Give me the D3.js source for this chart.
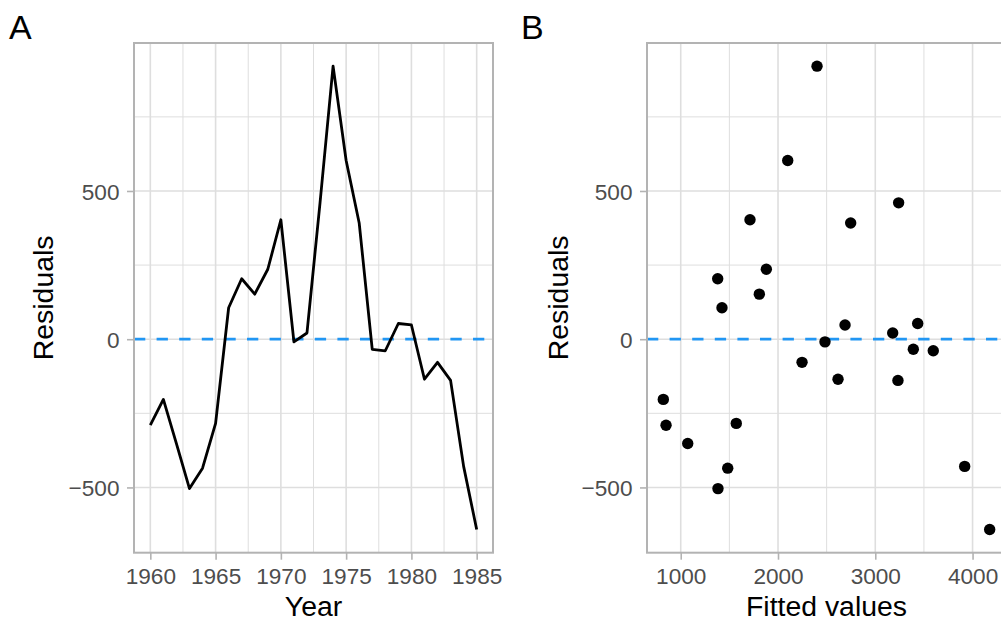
<!DOCTYPE html>
<html>
<head>
<meta charset="utf-8">
<script src="https://cdn.jsdelivr.net/npm/d3@7"></script>
<style>
  html, body { margin: 0; padding: 0; background: #ffffff; }
  svg { display: block; font-family: "Liberation Sans", Arial, Helvetica, sans-serif; }
</style>
</head>
<body>
<svg id="chart" width="1001" height="621"></svg>
<script>
// Residual diagnostics of a yearly regression model, 1960–1985
const years = [1960, 1961, 1962, 1963, 1964, 1965, 1966, 1967, 1968, 1969,
               1970, 1971, 1972, 1973, 1974, 1975, 1976, 1977, 1978, 1979,
               1980, 1981, 1982, 1983, 1984, 1985];
const residuals = [-290, -203, -352, -504, -435, -284, 106, 204, 152, 236,
                   403, -9, 21, 460, 921, 603, 392, -34, -39, 53,
                   48, -135, -78, -139, -429, -642];
const fitted = [849, 821, 1072, 1383, 1483, 1571, 1424, 1380, 1808, 1880,
                1712, 2483, 3179, 3240, 2401, 2100, 2747, 3391, 3596, 3436,
                2689, 2617, 2247, 3233, 3919, 4176];

const residualTicks = [-500, 0, 500];
const residualMinor = [-750, -250, 250, 750];
const yearTicks = [1960, 1965, 1970, 1975, 1980, 1985];
const yearMinor = [1957.5, 1962.5, 1967.5, 1972.5, 1977.5, 1982.5, 1987.5];
const fittedTicks = [1000, 2000, 3000, 4000];
const fittedMinor = [500, 1500, 2500, 3500, 4500];

const rows = years.map((yr, i) => ({ year: yr, resid: residuals[i], fit: fitted[i] }));

const svg = d3.select("#chart");

const GRID = "#DEDEDE", BORDER = "#B3B3B3", TICKTXT = "#4D4D4D", REFLINE = "#2196F3";
const TICK_FONT = 22.6, TITLE_FONT = 28.4, TAG_FONT = 34;

// padded extent, 5% on each side
function padded(vals) {
  const [lo, hi] = d3.extent(vals);
  const pad = (hi - lo) * 0.05;
  return [lo - pad, hi + pad];
}

const plotTop = 43, plotBottom = 552.7;
const yScale = d3.scaleLinear().domain(padded(residuals)).range([plotBottom, plotTop]);

function panel(opts) {
  const { left, right, x, xTicks, xMinor, xTitle, tag, tagX, titleX, yTitleX, drawMarks, id } = opts;
  const y = yScale;
  const g = svg.append("g");

  const [x0, x1] = x.domain();
  const [y0, y1] = y.domain();

  // clip to the panel area
  g.append("clipPath").attr("id", id)
    .append("rect").attr("x", left).attr("y", plotTop)
    .attr("width", right - left).attr("height", plotBottom - plotTop);

  const plot = g.append("g").attr("clip-path", `url(#${id})`);

  // minor grid
  plot.selectAll(".gxm").data(xMinor.filter(v => v > x0 && v < x1)).join("line")
    .attr("x1", d => x(d)).attr("x2", d => x(d)).attr("y1", plotTop).attr("y2", plotBottom)
    .attr("stroke", GRID).attr("stroke-width", 1);
  plot.selectAll(".gym").data(residualMinor.filter(v => v > y0 && v < y1)).join("line")
    .attr("x1", left).attr("x2", right).attr("y1", d => y(d)).attr("y2", d => y(d))
    .attr("stroke", GRID).attr("stroke-width", 1);
  // major grid
  plot.selectAll(".gxM").data(xTicks).join("line")
    .attr("x1", d => x(d)).attr("x2", d => x(d)).attr("y1", plotTop).attr("y2", plotBottom)
    .attr("stroke", GRID).attr("stroke-width", 1.6);
  plot.selectAll(".gyM").data(residualTicks).join("line")
    .attr("x1", left).attr("x2", right).attr("y1", d => y(d)).attr("y2", d => y(d))
    .attr("stroke", GRID).attr("stroke-width", 1.6);

  // zero reference line
  plot.append("line")
    .attr("x1", left).attr("x2", right).attr("y1", y(0)).attr("y2", y(0))
    .attr("stroke", REFLINE).attr("stroke-width", 2.8)
    .attr("stroke-dasharray", "11.3,11.3");

  drawMarks(plot);

  // panel border
  g.append("rect").attr("x", left).attr("y", plotTop)
    .attr("width", right - left).attr("height", plotBottom - plotTop)
    .attr("fill", "none").attr("stroke", BORDER).attr("stroke-width", 2);

  // axes
  const ax = g.append("g").attr("transform", `translate(0,${plotBottom})`)
    .call(d3.axisBottom(x).tickValues(xTicks).tickFormat(d3.format("d")).tickSize(7).tickPadding(7.5));
  const ay = g.append("g").attr("transform", `translate(${left},0)`)
    .call(d3.axisLeft(y).tickValues(residualTicks).tickFormat(d => d < 0 ? "\u2212" + Math.abs(d) : d).tickSize(7).tickPadding(7.5));
  [ax, ay].forEach(a => {
    a.select(".domain").remove();
    a.selectAll(".tick line").attr("stroke", BORDER).attr("stroke-width", 1.6);
    a.selectAll(".tick text").attr("fill", TICKTXT)
      .style("font-size", TICK_FONT + "px").style("font-family", "Liberation Sans, Arial, sans-serif");
  });
  ax.selectAll(".tick text").attr("dy", null).attr("y", 31.3);
  ay.selectAll(".tick text").attr("dy", "0.36em");

  // axis titles
  g.append("text").attr("x", titleX).attr("y", 615.5)
    .attr("text-anchor", "middle").attr("fill", "#000")
    .style("font-size", TITLE_FONT + "px").text(xTitle);
  g.append("text")
    .attr("transform", `translate(${yTitleX},${(plotTop + plotBottom) / 2}) rotate(-90)`)
    .attr("text-anchor", "middle").attr("fill", "#000")
    .style("font-size", TITLE_FONT + "px").text("Residuals");

  // panel tag
  g.append("text").attr("x", tagX).attr("y", 39.3).attr("fill", "#000")
    .style("font-size", TAG_FONT + "px").text(tag);
}

// Panel A: residuals over time
const leftA = 134, rightA = 493;
const xA = d3.scaleLinear().domain(padded(years)).range([leftA, rightA]);
panel({
  id: "clipA", left: leftA, right: rightA, x: xA,
  xTicks: yearTicks, xMinor: yearMinor, xTitle: "Year",
  tag: "A", tagX: 9, titleX: (leftA + rightA) / 2, yTitleX: 53,
  drawMarks: plot => {
    plot.append("path").datum(rows)
      .attr("d", d3.line().x(d => xA(d.year)).y(d => yScale(d.resid)))
      .attr("fill", "none").attr("stroke", "#000").attr("stroke-width", 2.8)
      .attr("stroke-linejoin", "round");
  }
});

// Panel B: residuals against fitted values
const leftB = 647, rightB = 1006;
const xB = d3.scaleLinear().domain(padded(fitted)).range([leftB, rightB]);
panel({
  id: "clipB", left: leftB, right: rightB, x: xB,
  xTicks: fittedTicks, xMinor: fittedMinor, xTitle: "Fitted values",
  tag: "B", tagX: 521, titleX: (leftB + rightB) / 2, yTitleX: 568,
  drawMarks: plot => {
    plot.selectAll("circle").data(rows).join("circle")
      .attr("cx", d => xB(d.fit)).attr("cy", d => yScale(d.resid))
      .attr("r", 5.7).attr("fill", "#000");
  }
});
</script>
</body>
</html>
